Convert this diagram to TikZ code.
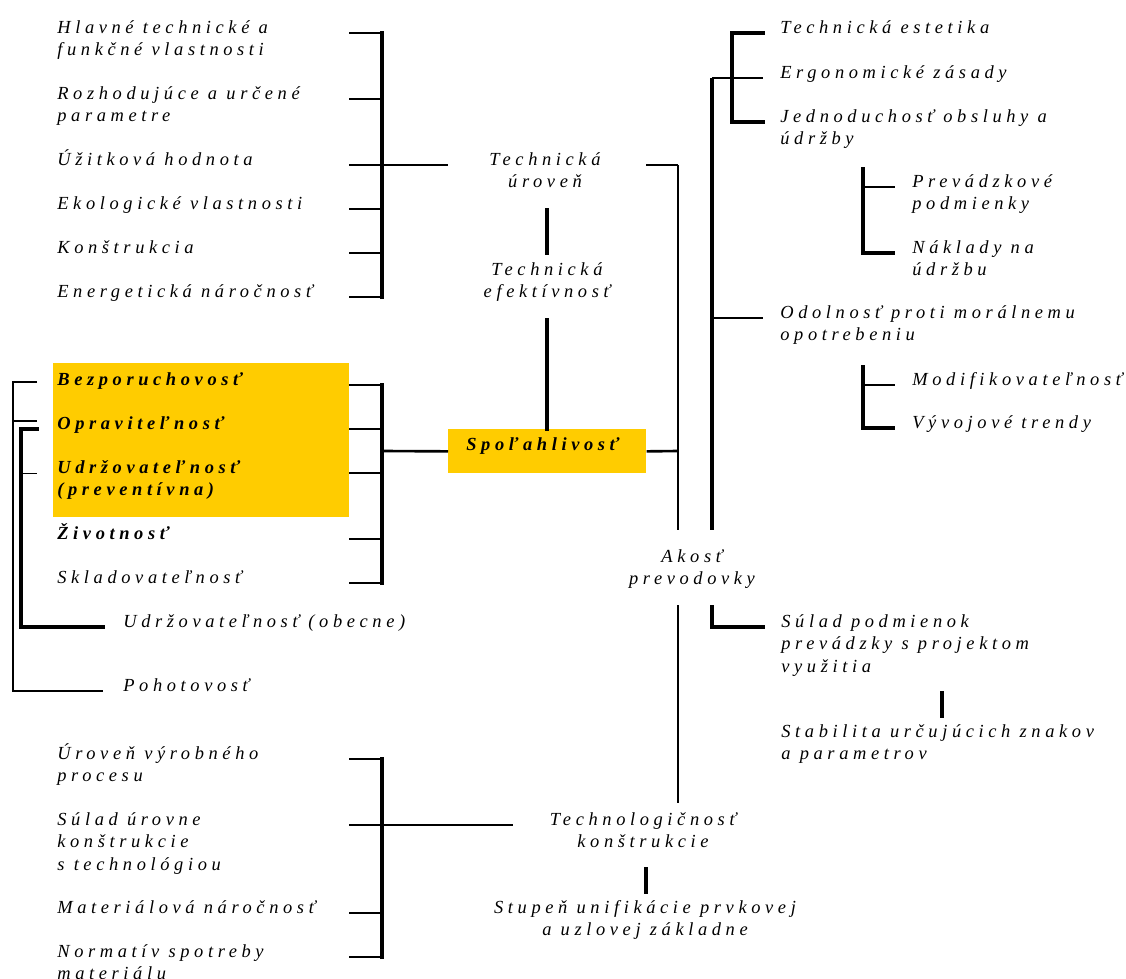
\documentclass[tikz,border=0pt]{standalone}
\usepackage{fontspec}
\newfontfamily\trkfont{Liberation Serif}[LetterSpace=25]
\definecolor{hilite}{HTML}{FFCC00}
% multi-line texts hang from the baseline of their first line
\newcommand{\lft}[1]{\begin{tabular}[t]{@{}l@{}}#1\end{tabular}}
\newcommand{\ctr}[1]{\begin{tabular}[t]{@{}c@{}}#1\end{tabular}}
\tikzset{
  item/.style={anchor=base west, inner sep=0pt,
    font={\trkfont\itshape\fontsize{10.5}{13}\selectfont}},
  mid/.style={item, anchor=base},
  strong/.style={item, font={\trkfont\bfseries\itshape\fontsize{10.5}{13}\selectfont}},
  spine/.style={line width=2.2pt, line cap=rect},
  tick/.style={line width=1.5pt},
}

\begin{document}
\begin{tikzpicture}[x=0.02cm, y=-0.02cm]
\useasboundingbox (0,0) rectangle (1126,978);
% yellow fields
\fill[hilite] (53,363) rectangle (349,517);
\node[fill=hilite, inner sep=0pt, minimum width=3.96cm, minimum height=0.88cm, anchor=north west] (spolbox) at (448,429) {};

% technical level group
\node[item] (hlavne) at (57,33) {\lft{Hlavné technické a\\funkčné vlastnosti}};
\node[item] (rozhod) at (57,99) {\lft{Rozhodujúce a určené\\parametre}};
\node[item] (uzitk) at (57,165) {Úžitková hodnota};
\node[item] (ekolog) at (57,209) {Ekologické vlastnosti};
\node[item] (konstr) at (57,253) {Konštrukcia};
\node[item] (energ) at (57,297) {Energetická náročnosť};
\draw[spine] (382,33) -- (382,297);
\foreach \y in {33,99,209,253,297}
  \draw[tick] (349,\y) -- (382,\y);
\draw[tick] (349,165) -- (448,165);

% centre column
\node[mid] (tuc) at (545,165) {\ctr{Technická\\úroveň}};
\node[mid] (tef) at (547,275) {\ctr{Technická\\efektívnosť}};
\node[strong] (spol) at (466,450) {Spoľahlivosť};
\draw[spine] (547,210) -- (547,253);
\draw[spine] (547,320) -- (547,429);
\draw[tick] (646,165) -- (678,165);
\draw[line width=1.6pt] (678,165) -- (678,530);
\draw[tick] (spolbox.east) -- (678,451);

% reliability group
\node[strong] (bezpor) at (57,385) {Bezporuchovosť};
\node[strong] (oprav) at (57,429) {Opraviteľnosť};
\node[strong] (udrzp) at (57,473) {\lft{Udržovateľnosť\\(preventívna)}};
\node[strong] (zivot) at (57,539) {Životnosť};
\node[item] (sklad) at (57,583) {Skladovateľnosť};
\node[item] (udrzo) at (123,627) {Udržovateľnosť (obecne)};
\node[item] (pohot) at (123,691) {Pohotovosť};
\draw[spine] (382,385) -- (382,583);
\foreach \y in {385,429,473,539,583}
  \draw[tick] (349,\y) -- (382,\y);
\draw[tick] (382,451) -- (spolbox.west);
% outer brackets on the left
\draw[tick] (37,382) -- (13,382) -- (13,691) -- (103,691);
\draw[tick] (13,421) -- (37,421);
\draw[spine] (37,429) -- (21,429) -- (21,627) -- (103,627);
\draw[thin] (21,473) -- (37,473);

% quality of the gearbox
\node[item] (estet) at (780,33) {Technická estetika};
\node[item] (ergon) at (780,78) {Ergonomické zásady};
\node[item] (jedno) at (780,122) {\lft{Jednoduchosť obsluhy a\\údržby}};
\node[item] (prevpod) at (912,187) {\lft{Prevádzkové\\podmienky}};
\node[item] (naklad) at (912,253) {\lft{Náklady na\\údržbu}};
\node[item] (odol) at (780,318) {\lft{Odolnosť proti morálnemu\\opotrebeniu}};
\node[item] (modif) at (912,385) {Modifikovateľnosť};
\node[item] (vyvoj) at (912,428) {Vývojové trendy};
\node[mid] (akost) at (692,562) {\ctr{Akosť\\prevodovky}};
\draw[line width=2.6pt] (712,78) -- (712,530);
\draw[tick] (712,78) -- (763,78);
\draw[tick] (712,318) -- (763,318);
\draw[line width=1.8pt, line cap=rect] (763,33) -- (732,33) -- (732,122) -- (763,122);
\draw[line width=1.8pt] (863,167) -- (863,253) -- (895,253);
\draw[tick] (863,187) -- (895,187);
\draw[line width=1.8pt] (863,365) -- (863,428) -- (895,428);
\draw[tick] (863,385) -- (895,385);

% lower part
\node[item] (sulad) at (781,627) {\lft{Súlad podmienok\\prevádzky s projektom\\využitia}};
\node[item] (stabil) at (781,737) {\lft{Stabilita určujúcich znakov\\a parametrov}};
\node[mid] (techn) at (643,825) {\ctr{Technologičnosť\\konštrukcie}};
\node[mid] (stupen) at (645,913) {\ctr{Stupeň unifikácie prvkovej\\a uzlovej základne}};
\draw[line width=2.4pt] (712,605) -- (712,627) -- (765,627);
\draw[line width=1.6pt] (678,605) -- (678,803);
\draw[spine] (942,693) -- (942,716);
\draw[spine] (646,869) -- (646,892);

% technology group
\node[item] (urov) at (57,759) {\lft{Úroveň výrobného\\procesu}};
\node[item] (sulur) at (57,825) {\lft{Súlad úrovne\\konštrukcie\\s technológiou}};
\node[item] (mater) at (57,913) {Materiálová náročnosť};
\node[item] (norm) at (57,957) {\lft{Normatív spotreby\\materiálu}};
\draw[spine] (382,759) -- (382,957);
\foreach \y in {759,913,957}
  \draw[tick] (349,\y) -- (382,\y);
\draw[tick] (349,825) -- (513,825);
\end{tikzpicture}
\end{document}
